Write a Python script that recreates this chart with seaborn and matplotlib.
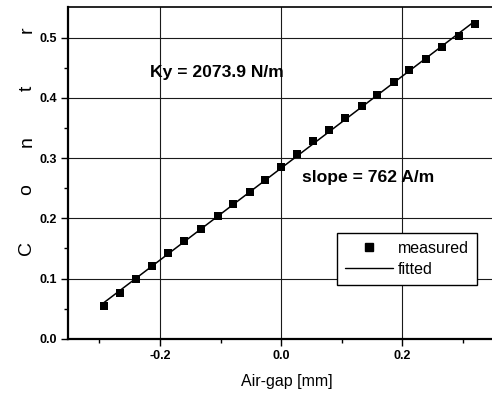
import numpy as np
import pandas as pd
import matplotlib
matplotlib.use("Agg")
import matplotlib.pyplot as plt
import seaborn as sns
from matplotlib.lines import Line2D

# ---- data ----
air_gap = [-0.293, -0.266, -0.240, -0.213, -0.186, -0.160, -0.132, -0.105,
           -0.079, -0.052, -0.026, 0.000, 0.027, 0.053, 0.080, 0.106,
           0.133, 0.158, 0.186, 0.212, 0.239, 0.266, 0.294, 0.321]
current = [0.055, 0.076, 0.100, 0.121, 0.143, 0.162, 0.182, 0.203,
           0.223, 0.243, 0.263, 0.286, 0.307, 0.328, 0.346, 0.367,
           0.386, 0.405, 0.427, 0.446, 0.465, 0.485, 0.503, 0.522]
x_ticks = [-0.2, 0.0, 0.2]
y_ticks = [0.0, 0.1, 0.2, 0.3, 0.4, 0.5]
x_label = "Air-gap [mm]"
y_label_letters = ["C", "o", "n", "t", "r"]
annot_ky = "Ky = 2073.9 N/m"
annot_slope = "slope = 762 A/m"

sns.set_theme(style="white")
plt.rcParams["font.family"] = ["Liberation Sans", "DejaVu Sans"]
plt.rcParams["text.color"] = "black"
plt.rcParams["axes.labelcolor"] = "black"
plt.rcParams["xtick.color"] = "black"
plt.rcParams["ytick.color"] = "black"

df = pd.DataFrame({"x": air_gap, "y": current})
coef = np.polyfit(df["x"], df["y"], 1)
fit_df = pd.DataFrame({"x": [df["x"].min(), df["x"].max()]})
fit_df["y"] = np.polyval(coef, fit_df["x"])

W, H = 492, 394
fig = plt.figure(figsize=(W / 100, H / 100), dpi=100)
ax_l, ax_r, ax_t, ax_b = 68, 505, 7, 338.7
ax = fig.add_axes([ax_l / W, 1 - ax_b / H, (ax_r - ax_l) / W, (ax_b - ax_t) / H])

sns.lineplot(data=fit_df, x="x", y="y", ax=ax, color="black", lw=1.1, legend=False, zorder=3)
sns.scatterplot(data=df, x="x", y="y", ax=ax, marker="s", color="black", s=32,
                edgecolor="black", linewidth=0, legend=False, zorder=4)

ax.set_xlim(-0.352, 0.37)
ax.set_ylim(0.0, 0.551)
ax.set_xticks(x_ticks)
ax.set_yticks(y_ticks)
ax.set_xticklabels([f"{v:.1f}" for v in x_ticks])
ax.set_yticklabels([f"{v:.1f}" for v in y_ticks])
ax.set_xticks([-0.3, -0.1, 0.1, 0.3], minor=True)
ax.set_yticks([0.05, 0.15, 0.25, 0.35, 0.45], minor=True)
ax.tick_params(axis="both", which="major", direction="out", length=5, width=1.0,
               color="black", labelcolor="black", labelsize=9, pad=3)
ax.tick_params(axis="both", which="minor", direction="out", length=3, width=1.0, color="black")
ax.tick_params(axis="x", which="both", bottom=True)
ax.tick_params(axis="y", which="both", left=True)
for lab in ax.get_xticklabels() + ax.get_yticklabels():
    lab.set_fontweight("bold")

ax.grid(True, which="major", color="#1a1a1a", lw=0.8)
for s in ["left", "bottom", "top", "right"]:
    ax.spines[s].set_visible(True)
    ax.spines[s].set_color("black")
ax.spines["left"].set_linewidth(1.6)
ax.spines["bottom"].set_linewidth(1.6)
ax.spines["top"].set_linewidth(1.2)

ax.set_xlabel(x_label, fontsize=11.5, labelpad=9, color="black")
ax.set_ylabel("")

# spaced y-axis letters
letter_y = [248, 190, 142, 88, 30]
for ch, py in zip(y_label_letters, letter_y):
    fig.text(27 / W, 1 - py / H, ch, rotation=90, fontsize=14, ha="center", va="center",
             color="black")

ax.text(-0.217, 0.443, annot_ky, fontsize=12.6, fontweight="bold", ha="left", va="center",
        color="black")
ax.text(0.034, 0.268, annot_slope, fontsize=12.6, fontweight="bold", ha="left", va="center",
        color="black")

handles = [Line2D([], [], marker="s", color="black", linestyle="none", markersize=6),
           Line2D([], [], color="black", lw=1.0)]
leg = ax.legend(handles, ["measured", "fitted"], loc="upper left",
                bbox_to_anchor=((337 - ax_l) / (ax_r - ax_l), (ax_b - 233) / (ax_b - ax_t)),
                frameon=True, fancybox=False, fontsize=11.5, handlelength=3.0,
                handletextpad=0.3, borderpad=0.5, labelspacing=0.35, borderaxespad=0)
for t in leg.get_texts():
    t.set_color("black")
leg.get_frame().set_edgecolor("black")
leg.get_frame().set_linewidth(1.0)
leg.get_frame().set_facecolor("white")
leg.get_frame().set_alpha(1)

fig.savefig("out.png", dpi=100)
